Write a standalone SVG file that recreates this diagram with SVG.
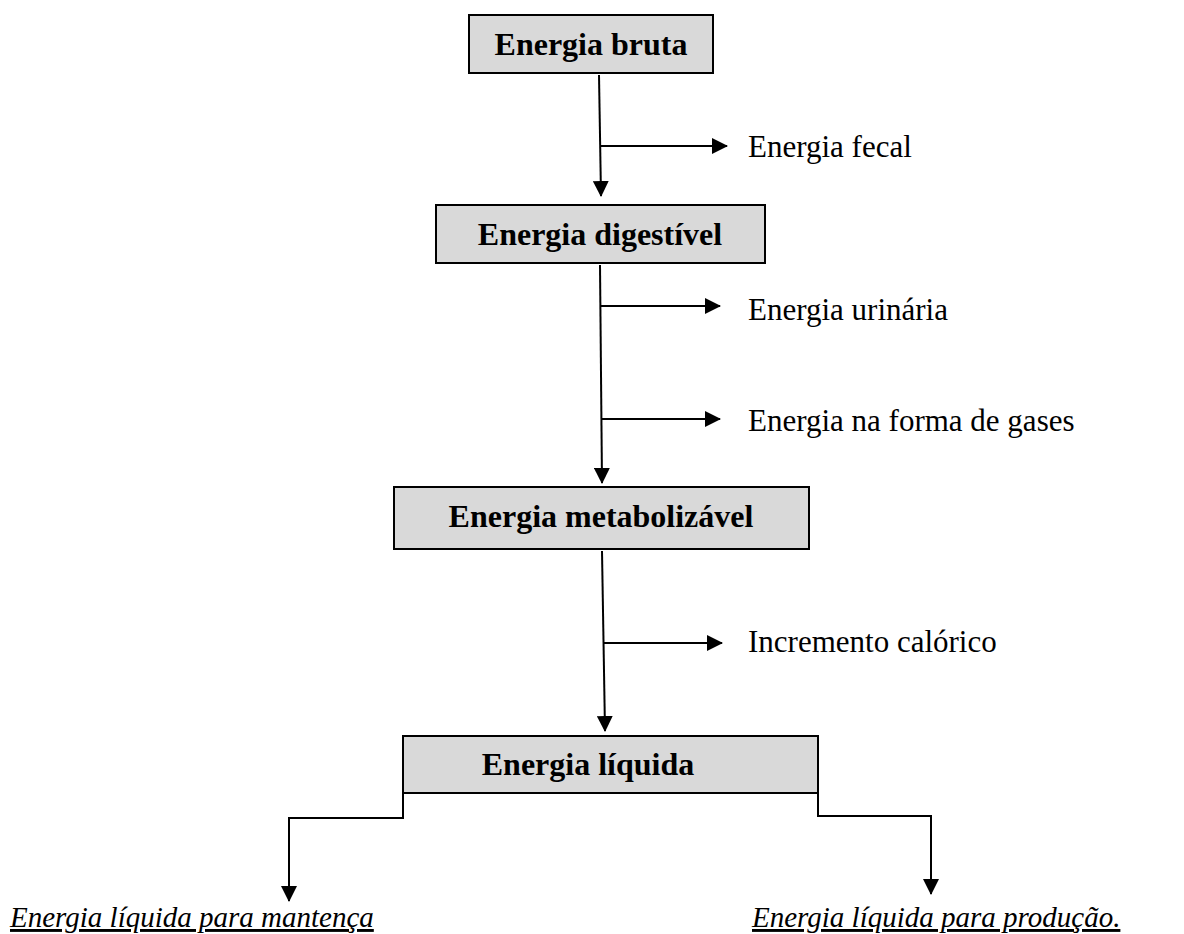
<svg xmlns="http://www.w3.org/2000/svg" width="1184" height="934" viewBox="0 0 1184 934">
<style>
.box{fill:#d9d9d9;stroke:#000;stroke-width:2}
.bt{font-family:"Liberation Serif",serif;font-weight:bold;font-size:32px;text-anchor:middle;fill:#000}
.lt{font-family:"Liberation Serif",serif;font-size:31px;fill:#000}
.it{font-family:"Liberation Serif",serif;font-style:italic;font-size:29px;fill:#000;text-decoration:underline}
.ln{fill:none;stroke:#000;stroke-width:2}
</style>
<defs>
<marker id="ah" markerWidth="16" markerHeight="16" viewBox="0 0 16 16" refX="15" refY="8" orient="auto" markerUnits="userSpaceOnUse">
<path d="M0,0 L16,8 L0,16 Z" fill="#000"/>
</marker>
</defs>
<rect width="1184" height="934" fill="#fff"/>
<g id="connectors">
<path class="ln" d="M599,75 L601,196" marker-end="url(#ah)"/>
<path class="ln" d="M600,146 L727,146" marker-end="url(#ah)"/>
<path class="ln" d="M600,265 L602,483" marker-end="url(#ah)"/>
<path class="ln" d="M601,306 L720,306" marker-end="url(#ah)"/>
<path class="ln" d="M601,419 L720,419" marker-end="url(#ah)"/>
<path class="ln" d="M602,551 L605,731" marker-end="url(#ah)"/>
<path class="ln" d="M603,643 L722,643" marker-end="url(#ah)"/>
<path class="ln" d="M403,793 L403,818 L289,818 L289,901" marker-end="url(#ah)"/>
<path class="ln" d="M818,793 L818,816 L931,816 L931,894" marker-end="url(#ah)"/>
</g>
<g id="n1"><rect class="box" x="469" y="15" width="244" height="58"/><text class="bt" x="591" y="55">Energia bruta</text></g>
<g id="n2"><rect class="box" x="436" y="205" width="329" height="58"/><text class="bt" x="600" y="245">Energia digestível</text></g>
<g id="n3"><rect class="box" x="394" y="487" width="415" height="62"/><text class="bt" x="601" y="527">Energia metabolizável</text></g>
<g id="n4"><rect class="box" x="403" y="736" width="415" height="57"/><text class="bt" x="588" y="775">Energia líquida</text></g>
<g id="l1"><text class="lt" x="748" y="157">Energia fecal</text></g>
<g id="l2"><text class="lt" x="748" y="320">Energia urinária</text></g>
<g id="l3"><text class="lt" x="748" y="431">Energia na forma de gases</text></g>
<g id="l4"><text class="lt" x="748" y="652">Incremento calórico</text></g>
<g id="o1"><text class="it" x="10" y="927">Energia líquida para mantença</text></g>
<g id="o2"><text class="it" x="752" y="927">Energia líquida para produção.</text></g>
</svg>
